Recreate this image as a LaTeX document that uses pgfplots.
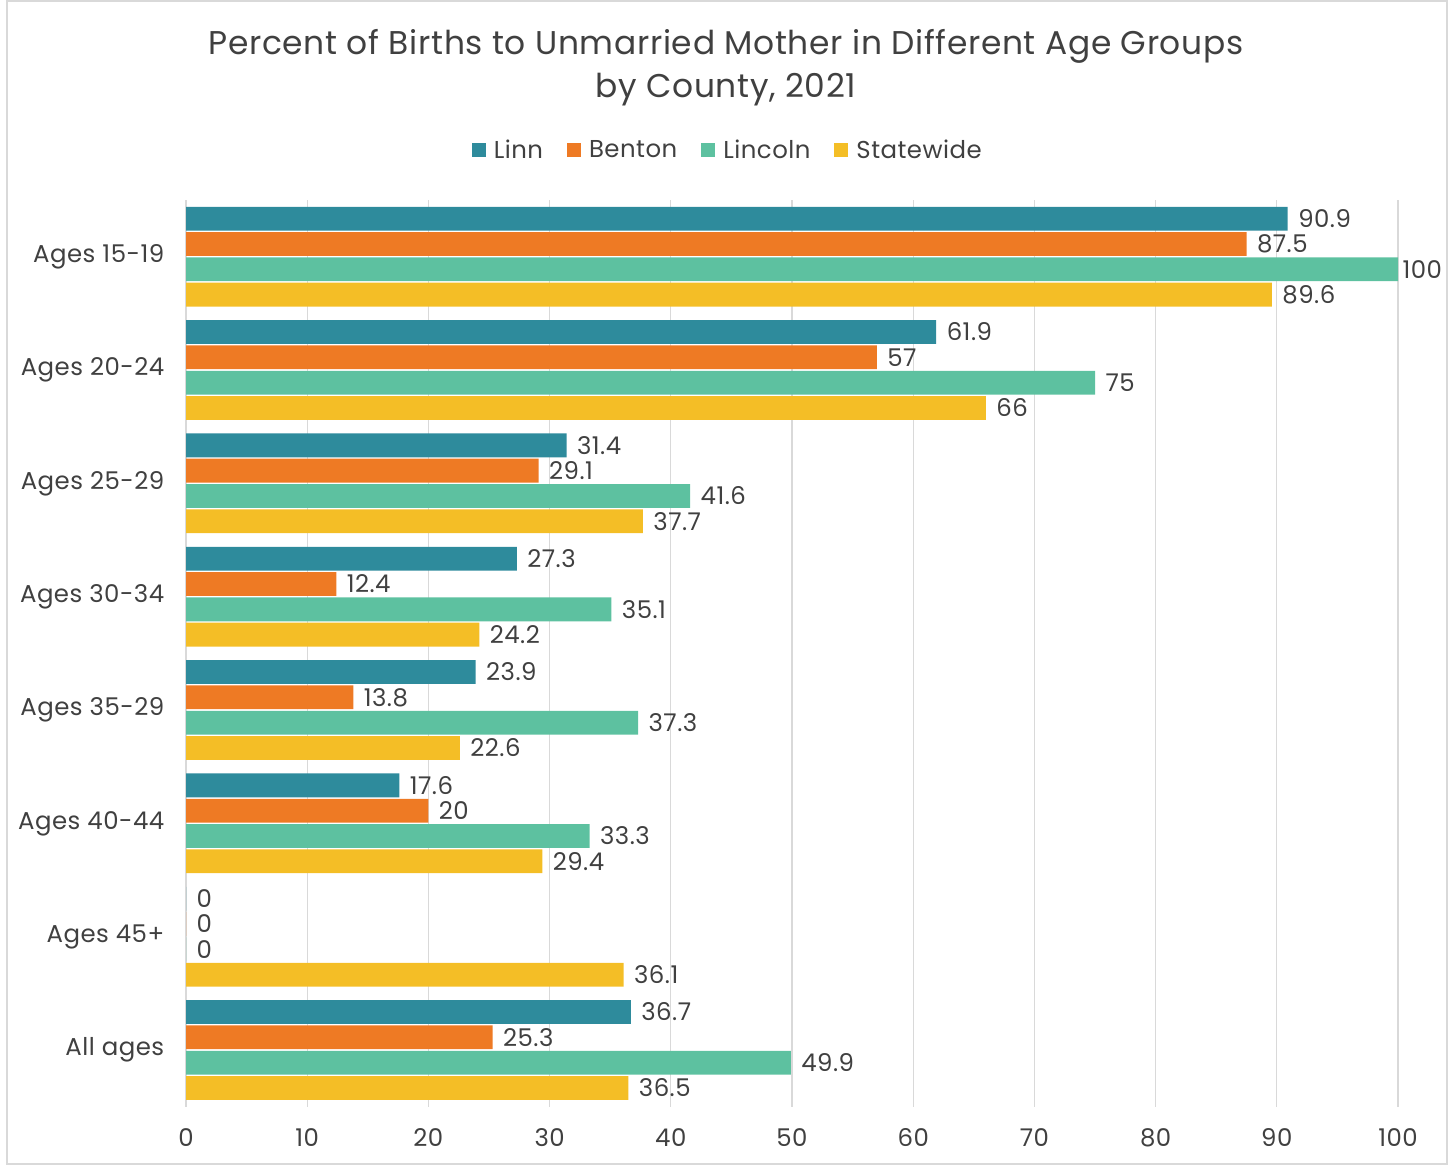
\documentclass[border=0pt]{standalone}
\usepackage{pgfplots}
\pgfplotsset{compat=1.18}
\usepackage{fontspec}
\setmainfont{Poppins}[LetterSpace=2]
\definecolor{linn}{RGB}{46,139,156}
\definecolor{benton}{RGB}{238,122,36}
\definecolor{lincoln}{RGB}{93,193,160}
\definecolor{state}{RGB}{244,190,38}
\definecolor{txt}{RGB}{64,64,64}
\definecolor{gridc}{RGB}{217,217,217}
\begin{document}
\begin{tikzpicture}[x=1bp,y=1bp]
\path[use as bounding box] (0,0) rectangle (1452,1165);
\draw[gridc, line width=1.5bp] (7,1) rectangle (1447,1164);
\node[align=center, text=txt, font=\fontsize{33}{43}\selectfont] at (726,1097) {Percent of Births to Unmarried Mother in Different Age Groups\\by County, 2021};
\begin{axis}[
  at={(186bp,58.3bp)}, anchor=south west,
  scale only axis, width=1212bp, height=906.7bp,
  xbar, bar width=0.21,
  xmin=0, xmax=100, ymin=-0.5, ymax=7.5,
  xtick={0,10,...,100},
  ytick={0,...,7},
  yticklabels={All ages,Ages 45+,Ages 40-44,Ages 35-29,Ages 30-34,Ages 25-29,Ages 20-24,Ages 15-19},
  xmajorgrids, major grid style={gridc, line width=1.2bp},
  axis line style={draw=none}, tick style={draw=none},
  /pgf/number format/assume math mode=true,
  tick label style={text=txt, font=\fontsize{24.5}{28}\selectfont},
  yticklabel style={xshift=-14bp},
  xticklabel style={yshift=-18bp},
  nodes near coords,
  nodes near coords style={text=txt, font=\fontsize{24.5}{28}\selectfont, anchor=west, xshift=7bp, /pgf/number format/assume math mode=true},
  legend columns=4,
  legend style={at={(0.447,1.055)}, anchor=center, draw=none, fill=none, text=txt, font=\fontsize{24.5}{28}\selectfont, /tikz/every even column/.append style={column sep=22bp}, /tikz/every odd column/.append style={column sep=6bp}},
  legend image code/.code={\fill[#1,draw=none] (0bp,-7bp) rectangle (14bp,7bp);},
]
\addplot[fill=linn, draw=none, bar shift=0.335] coordinates {(90.9,7) (61.9,6) (31.4,5) (27.3,4) (23.9,3) (17.6,2) (0,1) (36.7,0)};
\addplot[fill=benton, draw=none, bar shift=0.112] coordinates {(87.5,7) (57,6) (29.1,5) (12.4,4) (13.8,3) (20,2) (0,1) (25.3,0)};
\addplot[fill=lincoln, draw=none, bar shift=-0.112, point meta=explicit symbolic, nodes near coords={\pgfplotspointmeta}] coordinates {(100,7) [{\kern-6bp 100}] (75,6) [75] (41.6,5) [41.6] (35.1,4) [35.1] (37.3,3) [37.3] (33.3,2) [33.3] (0,1) [0] (49.9,0) [49.9]};
\addplot[fill=state, draw=none, bar shift=-0.335] coordinates {(89.6,7) (66,6) (37.7,5) (24.2,4) (22.6,3) (29.4,2) (36.1,1) (36.5,0)};
\legend{Linn,Benton,Lincoln,Statewide}
\end{axis}
\end{tikzpicture}
\end{document}
